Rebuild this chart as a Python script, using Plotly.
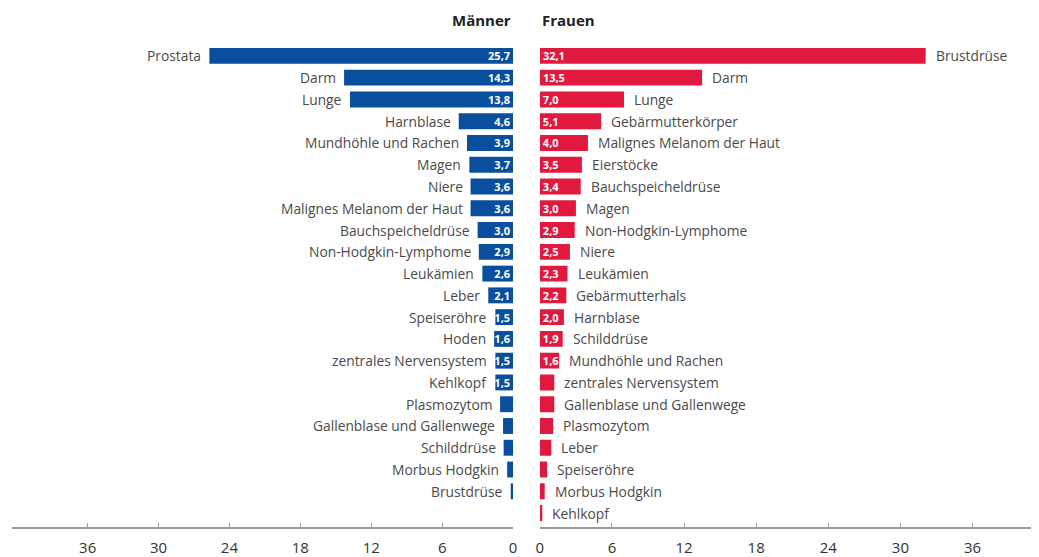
import plotly.graph_objects as go

men_names = ["Prostata", "Darm", "Lunge", "Harnblase", "Mundhöhle und Rachen", "Magen", "Niere",
             "Malignes Melanom der Haut", "Bauchspeicheldrüse", "Non-Hodgkin-Lymphome", "Leukämien",
             "Leber", "Speiseröhre", "Hoden", "zentrales Nervensystem", "Kehlkopf", "Plasmozytom",
             "Gallenblase und Gallenwege", "Schilddrüse", "Morbus Hodgkin", "Brustdrüse"]
men_vals = [25.7, 14.3, 13.8, 4.6, 3.9, 3.7, 3.6, 3.6, 3.0, 2.9, 2.6, 2.1, 1.5, 1.6, 1.5, 1.5,
            1.1, 0.85, 0.8, 0.5, 0.2]

women_names = ["Brustdrüse", "Darm", "Lunge", "Gebärmutterkörper", "Malignes Melanom der Haut",
               "Eierstöcke", "Bauchspeicheldrüse", "Magen", "Non-Hodgkin-Lymphome", "Niere",
               "Leukämien", "Gebärmutterhals", "Harnblase", "Schilddrüse", "Mundhöhle und Rachen",
               "zentrales Nervensystem", "Gallenblase und Gallenwege", "Plasmozytom", "Leber",
               "Speiseröhre", "Morbus Hodgkin", "Kehlkopf"]
women_vals = [32.1, 13.5, 7.0, 5.1, 4.0, 3.5, 3.4, 3.0, 2.9, 2.5, 2.3, 2.2, 2.0, 1.9, 1.6,
              1.2, 1.2, 1.1, 0.95, 0.6, 0.4, 0.2]

tick_vals = [0, 6, 12, 18, 24, 30, 36]

BLUE = "#0a4f9e"
RED = "#e2193f"
FONT = "Open Sans"
LABEL_COLOR = "#4a4a4a"


def fmt(v):
    return f"{v:.1f}".replace(".", ",") if v >= 1.5 else ""


men_y = list(range(len(men_names)))
women_y = list(range(len(women_names)))

fig = go.Figure()
fig.add_trace(go.Bar(
    x=men_vals, y=men_y, orientation="h", xaxis="x", yaxis="y",
    marker=dict(color=BLUE, line=dict(width=0)), width=0.73,
    text=[fmt(v) for v in men_vals], textposition="inside", insidetextanchor="start",
    constraintext="none", textangle=0,
    textfont=dict(family=FONT, size=11, color="white", weight="bold"),
    showlegend=False, hoverinfo="skip", cliponaxis=False,
))
fig.add_trace(go.Bar(
    x=women_vals, y=women_y, orientation="h", xaxis="x2", yaxis="y2",
    marker=dict(color=RED, line=dict(width=0)), width=0.73,
    text=[fmt(v) for v in women_vals], textposition="inside", insidetextanchor="start",
    constraintext="none", textangle=0,
    textfont=dict(family=FONT, size=11, color="white", weight="bold"),
    showlegend=False, hoverinfo="skip", cliponaxis=False,
))

annotations = []
for name, v, y in zip(men_names, men_vals, men_y):
    annotations.append(dict(x=v, y=y, xref="x", yref="y", text=name, showarrow=False,
                            xanchor="right", xshift=-6,
                            font=dict(family=FONT, size=13.8, color=LABEL_COLOR)))
for name, v, y in zip(women_names, women_vals, women_y):
    annotations.append(dict(x=v, y=y, xref="x2", yref="y2", text=name, showarrow=False,
                            xanchor="left", xshift=8,
                            font=dict(family=FONT, size=13.8, color=LABEL_COLOR)))
annotations.append(dict(x=0, y=1, xref="x", yref="paper", yanchor="bottom", yshift=8,
                        text="<b>Männer</b>", showarrow=False, xanchor="right",
                        font=dict(family=FONT, size=15, color="#222")))
annotations.append(dict(x=0, y=1, xref="x2", yref="paper", yanchor="bottom", yshift=8,
                        text="<b>Frauen</b>", showarrow=False, xanchor="left",
                        font=dict(family=FONT, size=15, color="#222")))

# page body has an 8px margin, so the figure is made 8px smaller
W, H = 1031, 549
left_dom = [0.0, 505 / W]
right_dom = [532 / W, 1.0]
yr = [21.64, -0.73]

axis_common = dict(tickvals=tick_vals, showgrid=False, zeroline=False, showline=True,
                   linecolor="#9a9a9a", linewidth=2, ticks="inside", ticklen=4,
                   tickcolor="#9a9a9a", tickwidth=1, ticklabelstandoff=6,
                   tickfont=dict(family=FONT, size=15, color="#333"), fixedrange=True)

fig.update_layout(
    width=W, height=H,
    margin=dict(l=0, r=0, t=32, b=27),
    paper_bgcolor="white", plot_bgcolor="white",
    barmode="overlay",
    xaxis=dict(domain=left_dom, range=[42.4, 0], anchor="y", **axis_common),
    xaxis2=dict(domain=right_dom, range=[0, 41.2], anchor="y2", **axis_common),
    yaxis=dict(range=yr, showticklabels=False, showgrid=False, zeroline=False,
               showline=False, anchor="x"),
    yaxis2=dict(range=yr, showticklabels=False, showgrid=False, zeroline=False,
                showline=False, anchor="x2"),
    annotations=annotations,
)

fig.write_html("out.html")
